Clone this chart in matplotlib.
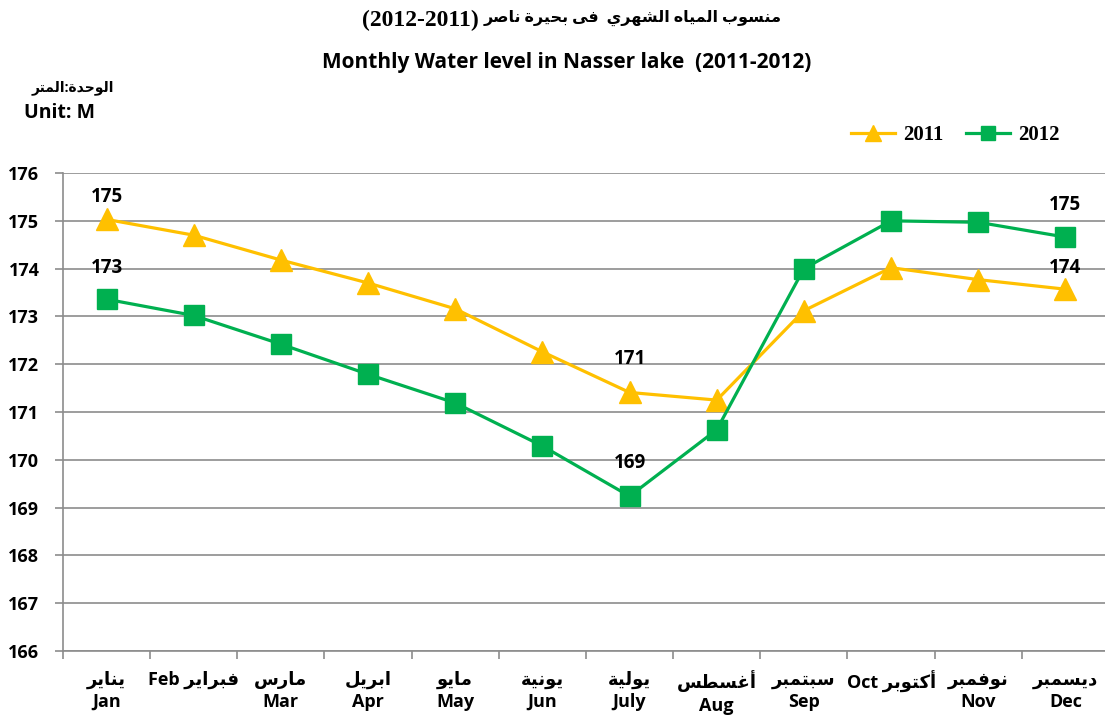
import numpy as np
import matplotlib
matplotlib.use('Agg')
import matplotlib.pyplot as plt
from matplotlib.lines import Line2D

# data
months_en = ['Jan', 'Feb', 'Mar', 'Apr', 'May', 'Jun', 'July', 'Aug', 'Sep', 'Oct', 'Nov', 'Dec']
months_ar = ['يناير', 'فبراير', 'مارس', 'ابريل', 'مايو', 'يونية', 'يولية', 'أغسطس',
             'سبتمبر', 'أكتوبر', 'نوفمبر', 'ديسمبر']
level_2011 = [175.03, 174.70, 174.18, 173.70, 173.16, 172.26, 171.41, 171.25, 173.12, 174.02, 173.77, 173.57]
level_2012 = [173.36, 173.02, 172.42, 171.79, 171.19, 170.29, 169.24, 170.63, 174.00, 175.00, 174.97, 174.66]
labelled = [0, 6, 11]          # months with value labels
yticks = np.arange(166, 177)

# label offsets (points above marker)
off_2011 = [9, 17, 8]
off_2012 = [15, 17, 16]

# arabic shaping (presentation forms, visual order)
FORMS = {
    'ا': (0xFE8D, 0), 'أ': (0xFE83, 0), 'ب': (0xFE8F, 1), 'ة': (0xFE93, 0),
    'ت': (0xFE95, 1), 'ح': (0xFEA1, 1), 'د': (0xFEA9, 0), 'ر': (0xFEAD, 0),
    'س': (0xFEB1, 1), 'ش': (0xFEB5, 1), 'ص': (0xFEB9, 1), 'ط': (0xFEC1, 1),
    'غ': (0xFECD, 1), 'ف': (0xFED1, 1), 'ك': (0xFED9, 1), 'ل': (0xFEDD, 1),
    'م': (0xFEE1, 1), 'ن': (0xFEE5, 1), 'ه': (0xFEE9, 1), 'و': (0xFEED, 0),
    'ى': (0xFEEF, 0), 'ي': (0xFEF1, 1),
}


def ar(s):
    out = []
    for i, c in enumerate(s):
        if c not in FORMS:
            out.append(c)
            continue
        base, dual = FORMS[c]
        prev = i > 0 and s[i-1] in FORMS and FORMS[s[i-1]][1] == 1
        nxt = i < len(s) - 1 and s[i+1] in FORMS
        if dual and prev and nxt:
            code = base + 3
        elif dual and nxt:
            code = base + 2
        elif prev:
            code = base + 1
        else:
            code = base
        out.append(chr(code))
    return ''.join(out[::-1])


sans = ['Open Sans', 'DejaVu Sans']
serif = ['Liberation Serif', 'DejaVu Sans']
c11 = '#FFC000'
c12 = '#00B050'
grey = '#8C8C8C'

fig = plt.figure(figsize=(11.05, 7.21), dpi=100)
ax = fig.add_axes([0.057, 0.097, 0.9466, 0.663])

x = np.arange(len(months_en))
ax.plot(x, level_2011, '-^', color=c11, lw=2.3, ms=16, zorder=3)
ax.plot(x, level_2012, '-s', color=c12, lw=2.3, ms=14, zorder=4)

# value labels
for k, i in enumerate(labelled):
    ax.annotate('%d' % round(level_2011[i]), (x[i], level_2011[i]),
                xytext=(0, off_2011[k]), textcoords='offset points',
                ha='center', va='bottom', family=sans, fontweight='bold', fontsize=13.5)
    ax.annotate('%d' % round(level_2012[i]), (x[i], level_2012[i]),
                xytext=(0, off_2012[k]), textcoords='offset points',
                ha='center', va='bottom', family=sans, fontweight='bold', fontsize=13.5)

# axes
ax.set_xlim(-0.5, 11.5)
ax.set_ylim(166, 176)
ax.set_yticks(yticks)
ax.set_yticklabels(['%d' % v for v in yticks], family=sans, fontweight='bold', fontsize=13)
ax.yaxis.grid(True, color=grey, lw=1.2)
ax.set_axisbelow(True)
for s in ('top', 'right'):
    ax.spines[s].set_visible(False)
for s in ('left', 'bottom'):
    ax.spines[s].set_color(grey)
    ax.spines[s].set_linewidth(1.2)
ax.tick_params(axis='y', length=6, color=grey, width=1.2, pad=11)

xl = []
for en, a in zip(months_en, months_ar):
    if en in ('Feb', 'Oct'):
        xl.append(en + ' ' + ar(a))
    else:
        xl.append(ar(a) + '\n' + en)
ax.set_xticks(x)
ax.set_xticklabels(xl, family=sans, fontweight='bold', fontsize=13, linespacing=1.3)
ax.set_xticks(np.arange(-0.5, 12, 1), minor=True)
ax.tick_params(axis='x', which='major', length=0, pad=14)
ax.tick_params(axis='x', which='minor', length=6, color=grey, width=1.2)

# titles
fig.text(362 / 1105, 0.971, '(2012-2011)', ha='left', va='center',
         family=serif, fontweight='bold', fontsize=17)
fig.text(782 / 1105, 0.975, ar('منسوب المياه الشهري  فى بحيرة ناصر'),
         ha='right', va='center', family=serif, fontweight='bold', fontsize=11.5)
fig.text(0.513, 0.914, 'Monthly Water level in Nasser lake  (2011-2012)',
         ha='center', va='center', family=sans, fontweight='bold', fontsize=15)
fig.text(0.066, 0.879, ar('الوحدة:المتر'), ha='center', va='center',
         family=sans, fontweight='bold', fontsize=10)
fig.text(0.054, 0.843, 'Unit: M', ha='center', va='center',
         family=sans, fontweight='bold', fontsize=14)

# legend
handles = [Line2D([], [], color=c11, lw=2.3, marker='^', ms=11),
           Line2D([], [], color=c12, lw=2.3, marker='s', ms=10)]
leg = fig.legend(handles, ['2011', '2012'], loc='center right',
                 bbox_to_anchor=(0.976, 0.813), ncol=2, frameon=False,
                 handlelength=2.1, handletextpad=0.4, columnspacing=1.1,
                 prop={'family': serif, 'weight': 'bold', 'size': 15})

fig.savefig('out.png', dpi=100)
